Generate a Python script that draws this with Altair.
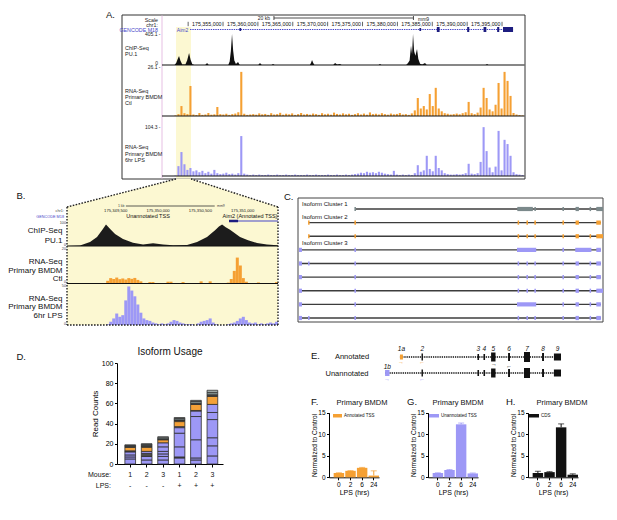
import altair as alt
import pandas as pd
import numpy as np

W, H = 601, 504
FONT = "Liberation Sans"
ORANGE = "#f5a033"
PURPLE = "#9d98f6"
BLUE = "#4646c8"
NAVY = "#1d1d80"
YELLOW = "#fcf8d2"
INK = "#111111"
GREY_ISO = "#7b898b"


def P(v):
    return v - 8


# ------------------------------------------------------------------ panel A data
A_DOMAIN_KB = [-3.75, 48.15]  # kb relative to chr1:175,350,000
A_TICK_KB = [5, 10, 15, 20, 25, 30, 35, 40, 45]
A_TICK_LABELS = ["175,355,000", "175,360,000", "175,365,000", "175,370,000", "175,375,000",
                 "175,380,000", "175,385,000", "175,390,000", "175,395,000"]
A_TICK_MARKS_KB = [0, 5, 10, 15, 20, 25, 30, 35, 40, 45]
A_SCALEBAR_KB = [12.3, 32.3]
A_HIGHLIGHT_KB = [-1.74, 0.41]
A_GENE_KB = [0.27, 46.58]
A_EXON_THIN_START = [7.35, 33.15]
A_EXON_THIN_END = [7.6, 33.4]
A_EXON_THICK_START = [35.65, 40.0, 42.35, 44.3, 45.14]
A_EXON_THICK_END = [36.05, 40.3, 42.75, 44.6, 46.58]

A_CHIP_KB = [-3.75, -1.95, -1.7, -1.5, -1.31, -1.1, -0.85, -0.4, -0.15, 0.13, 0.35, 0.6, 0.9,
             2.45, 2.71, 2.95,
             5.75, 5.95, 6.12, 6.29, 6.45, 6.62, 6.85, 7.15, 7.4,
             10.05, 10.3, 10.55,
             11.95, 12.17, 12.4,
             17.45, 17.62, 17.76, 17.92, 18.1,
             20.8, 21.06, 21.35, 21.77, 22.0,
             27.3, 27.5, 27.7,
             31.25, 31.52, 31.75, 31.95, 32.1, 32.24, 32.4, 32.58, 32.81, 33.0, 33.25, 33.55, 33.96, 34.2,
             42.65, 42.85, 43.05, 48.15]
A_CHIP_VAL = [0, 0, 30, 80, 118, 55, 8, 5, 60, 157, 70, 10, 0,
              0, 26, 0,
              0, 45, 180, 405, 190, 60, 12, 39, 0,
              0, 26, 0,
              0, 13, 0,
              0, 30, 65, 30, 0,
              0, 26, 6, 13, 0,
              0, 13, 0,
              0, 26, 60, 250, 140, 405, 180, 120, 209, 80, 15, 5, 26, 0,
              0, 13, 0, 0]

A_CTL = [0, 0, 0, 0, 0.3, 1.0, 5.3, 1.5, 1.0, 16.0,
         0.8, 0.5, 1.6, 0.6, 0.8, 1.6, 0.7, 0.9, 4.8, 1.0,
         0.8, 1.2, 0.6, 1.0, 1.3, 2.0, 23.5, 1.2, 0.6, 0.8,
         1.0, 0.7, 1.4, 0.9, 1.1, 0.6, 1.5, 0.8, 1.0, 1.7,
         0.7, 1.2, 0.9, 1.4, 0.6, 1.0, 1.6, 0.8, 1.1, 0.7,
         1.3, 1.0, 0.6, 1.5, 0.9, 1.2, 0.7, 1.8, 1.1, 0.8,
         1.4, 0.9, 1.2, 0.6, 1.0, 1.5, 0.8, 1.3, 0.7, 1.9,
         1.0, 1.2, 0.8, 1.5, 1.0, 0.7, 1.3, 0.9, 1.1, 1.6,
         0.8, 1.0, 0.6, 1.4, 3.0, 9.6, 4.0, 5.3, 3.5, 11.7,
         5.3, 15.0, 4.0, 2.5, 1.5, 1.2, 0.8, 1.0, 1.3, 0.9,
         1.5, 2.0, 7.5, 1.5, 1.0, 1.8, 4.5, 15.0, 9.6, 3.5,
         2.5, 6.0, 17.6, 4.0, 23.5, 18.7, 10.7, 1.6, 0.8, 0.5,
         0.3]
A_LPS = [0, 0, 0, 0, 1, 21, 51, 25, 13, 17,
         10, 12, 8, 11, 6, 9, 5, 13, 6, 4,
         5, 7, 4, 5, 3, 6, 85, 5, 3, 2,
         3, 2, 3, 2, 2, 3, 2, 2, 3, 2,
         2, 3, 2, 2, 3, 2, 2, 2, 3, 2,
         2, 3, 2, 2, 2, 3, 2, 2, 3, 2,
         2, 3, 2, 3, 4, 5, 7, 6, 9, 7,
         8, 6, 9, 7, 5, 4, 3, 11, 3, 2,
         3, 2, 3, 2, 6, 23, 9, 12, 43, 15,
         10, 43, 17, 12, 6, 4, 3, 3, 4, 3,
         4, 6, 26, 5, 4, 6, 30, 104, 53, 18,
         8, 20, 96, 12, 77, 68, 43, 8, 4, 3,
         2]

# ------------------------------------------------------------------ panel B data
B_DOMAIN_KB = [-1.076, 1.418]
B_TICK_KB = [-0.5, 0.0, 0.5, 1.0]
B_TICK_LABELS = ["175,349,500", "175,350,000", "175,350,500", "175,351,000"]
B_SCALEBAR_KB = [-0.38, 0.67]
B_GENE_KB = [0.839, 1.418]
B_GENE_THICK_KB = [0.839, 0.946]
B_CHIP_KB = [-1.076, -0.922, -0.804, -0.721, -0.66, -0.615, -0.56, -0.508, -0.414, -0.296, -0.177,
             -0.059, 0.059, 0.177, 0.343, 0.461, 0.579, 0.674, 0.72, 0.757, 0.80, 0.851, 0.969,
             1.064, 1.170, 1.288, 1.407, 1.418]
B_CHIP_VAL = [0, 2, 17, 39, 70, 93, 72, 52, 30, 14, 6, 12, 7, 3, 4, 17, 39, 68, 85, 94, 82, 71, 39,
              25, 13, 7, 3, 2]
B_CTL = [0] * 13 + [1.5, 3.0, 2.5, 3.3, 2.4, 2.8, 2.2, 3.0, 2.6, 3.1, 2.0, 1.2,
                    0, 0, 0.8, 0.8, 0, 0, 0, 0, 1.0, 1.0, 0, 0, 0, 0.8, 0, 0, 0, 0, 0, 1.2, 0, 0, 1.2,
                    0, 0, 0, 0, 0, 0.5, 2.5, 7.0, 14.4, 10.0, 3.0, 1.0, 0, 0, 0, 0.6, 0, 0, 0, 0, 0, 0.8]
B_LPS = [0] * 13 + [1, 4, 8, 14, 10, 12, 30, 47, 42, 35, 25, 15, 8, 6, 5, 3, 2, 1, 2, 1, 2, 4, 6, 5, 3,
                    2, 1, 1, 1, 0, 2, 4, 5, 6, 8, 3, 1, 0, 0, 0, 1, 2, 3, 5, 8, 10, 6, 3, 2, 3, 1, 2,
                    1, 2, 3, 2, 4]

# ------------------------------------------------------------------ panel C data
C_EXONS = {
    "1b": (0.3, 1.3), "1a": (3.3, 3.8), "2": (18.5, 19.0), "3": (72.0, 72.5), "4": (74.9, 75.4),
    "5": (77.5, 78.0), "6": (86.7, 87.2), "7": (91.0, 92.1), "8": (95.6, 96.1),
    "9s": (97.8, 99.3), "9l": (97.8, 100.0), "L5": (71.8, 78.1), "L7": (90.9, 96.2),
    "G5": (71.9, 77.0),
}
C_ROW_EXONS = [
    ["2", "G5", "5", "6", "7", "8", "9l"],
    ["1a", "2", "3", "4", "5", "6", "7", "9s"],
    ["1a", "2", "3", "4", "5", "6", "7", "8", "9l"],
    ["1b", "2", "L5", "6", "L7", "9s"],
    ["1b", "1a", "2", "3", "4", "5", "6", "7", "8", "9s"],
    ["1b", "2", "3", "4", "5", "6", "7", "8", "9s"],
    ["1b", "2", "3", "4", "5", "6", "7", "8", "9l"],
    ["1b", "2", "L5", "6", "7", "8", "9s"],
    ["1b", "1a", "2", "3", "4", "5", "6", "7", "8", "9s"],
]
C_ROW_COLOR = [GREY_ISO, ORANGE, ORANGE, PURPLE, PURPLE, PURPLE, PURPLE, PURPLE, PURPLE]

# ------------------------------------------------------------------ panel D data
D_BARS = ["1-", "2-", "3-", "1+", "2+", "3+"]
D_MOUSE = ["1", "2", "3", "1", "2", "3"]
D_LPS = ["-", "-", "-", "+", "+", "+"]
D_VALUES = [
    [5, 2, 2, 3, 1, 3.5, 1, 0.8, 0.7],
    [4, 3.5, 3, 2, 4, 1, 0.7, 1.3, 0.5],
    [4, 3.5, 2.5, 2.5, 4.5, 4, 3, 0.7, 1.3, 1],
    [6, 1, 10, 13.5, 5.5, 1, 5, 1, 0.5, 1.5, 1],
    [4, 2, 18, 23, 5.5, 0.5, 6, 1, 2, 1],
    [8, 10, 8, 18, 7, 8, 8, 1.5, 2.5, 2],
]
D_CLASSES = [
    ["P", "P", "P", "P", "K", "O", "K", "G", "L"],
    ["P", "P", "K", "P", "O", "O", "K", "G", "L"],
    ["P", "P", "P", "P", "P", "P", "O", "K", "G", "L"],
    ["P", "K", "P", "P", "P", "P", "O", "O", "K", "G", "L"],
    ["P", "P", "P", "P", "P", "P", "O", "K", "G", "L"],
    ["P", "P", "P", "P", "P", "P", "O", "K", "G", "L"],
]
D_CLASS_NAMES = ["P", "K", "O", "G", "L"]
D_CLASS_COLORS = [PURPLE, "#4d4d4d", "#f4a138", "#7c8a89", "#b7c3bf"]

# ------------------------------------------------------------------ panel E data
E_ANN_NAMES = ["1a", "2", "3", "4", "5", "6", "7", "8", "9"]
E_ANN_START = [9.0, 21.2, 52.8, 56.2, 60.5, 70.1, 79.1, 89.3, 96.0]
E_ANN_END = [10.7, 22.0, 53.7, 57.1, 63.0, 71.2, 82.5, 90.4, 100.0]
E_ANN_HALF = [2.5, 3.5, 3.0, 3.0, 4.5, 4.0, 5.0, 4.0, 3.5]
E_ANN_COLOR = [ORANGE] + [INK] * 8
E_UN_NAMES = ["1b", "2", "3", "4", "5", "6", "7", "8", "9"]
E_UN_START = [0.6, 21.2, 52.8, 56.2, 60.5, 70.1, 79.1, 89.3, 96.0]
E_UN_END = [3.1, 22.0, 53.7, 57.1, 63.0, 71.2, 82.5, 90.4, 100.0]
E_UN_HALF = [3.0, 3.5, 3.0, 3.0, 4.5, 4.0, 5.0, 4.0, 3.5]
E_UN_COLOR = [PURPLE] + [INK] * 8
E_ROW_Y = [12, 28]
E_LINE_START = [9.0, 0.6]
E_LINE_END = [99.5, 99.5]

# ------------------------------------------------------------------ panels F, G, H data
TIMES = ["0", "2", "6", "24"]
F_MEAN = [1.0, 1.5, 2.2, 0.4]
F_ERR = [0.05, 0.05, 0.1, 1.1]
G_MEAN = [1.0, 1.7, 12.3, 0.9]
G_ERR = [0.05, 0.1, 0.3, 0.1]
H_MEAN = [1.0, 1.2, 11.6, 0.6]
H_ERR = [0.4, 0.1, 0.8, 0.2]


# ------------------------------------------------------------------ helpers
def T(rows, align="left", style="normal", weight="normal"):
    df = pd.DataFrame(rows, columns=["x", "y", "t", "s", "c"])
    df["x"] = df["x"] - 8
    df["y"] = df["y"] - 8
    return alt.Chart(df).mark_text(align=align, baseline="middle", font=FONT,
                                   fontStyle=style, fontWeight=weight).encode(
        x=alt.X("x:Q", scale=None, axis=None),
        y=alt.Y("y:Q", scale=None, axis=None),
        text="t:N",
        size=alt.Size("s:Q", scale=None, legend=None),
        color=alt.Color("c:N", scale=None, legend=None),
    )


def L(rows, color=INK, width=1.0, dash=None):
    df = pd.DataFrame(rows, columns=["x", "y", "x2", "y2"]) - 8
    kw = dict(color=color, strokeWidth=width)
    if dash:
        kw["strokeDash"] = dash
    return alt.Chart(df).mark_rule(**kw).encode(
        x=alt.X("x:Q", scale=None, axis=None), y=alt.Y("y:Q", scale=None, axis=None),
        x2="x2:Q", y2="y2:Q")


def R(rows, fill="#ffffff", fill_opacity=1.0, stroke="#333333", width=0.0):
    df = pd.DataFrame(rows, columns=["x", "y", "x2", "y2"]) - 8
    return alt.Chart(df).mark_rect(fill=fill, fillOpacity=fill_opacity, stroke=stroke,
                                   strokeWidth=width).encode(
        x=alt.X("x:Q", scale=None, axis=None), y=alt.Y("y:Q", scale=None, axis=None),
        x2="x2:Q", y2="y2:Q")


def XA():
    return alt.Scale(domain=A_DOMAIN_KB, range=[P(162), P(524)])


def XB():
    return alt.Scale(domain=B_DOMAIN_KB, range=[P(67), P(278)])


def XC():
    return alt.Scale(domain=[0, 100], range=[P(298), P(603)])


def YC():
    return alt.Scale(domain=[0, 8], range=[P(209), P(318)])


def XE():
    return alt.Scale(domain=[0, 100], range=[P(384), P(561)])


def YE():
    return alt.Scale(domain=[0, 40], range=[P(345), P(385)])


def XD():
    return alt.Scale(type="band", domain=D_BARS, range=[P(117), P(223)],
                     paddingInner=0.35, paddingOuter=0.4, align=0.6)


layers = []

# ================================================================== panel A
layers.append(R([(122, 15, 525, 179)], fill="#ffffff", stroke="#333333", width=1.0))
hl = pd.DataFrame({"a": [A_HIGHLIGHT_KB[0]], "b": [A_HIGHLIGHT_KB[1]]})
layers.append(alt.Chart(hl).mark_rect(color=YELLOW).encode(
    x=alt.X("a:Q", scale=XA(), axis=None), x2="b:Q",
    y=alt.value(P(27)), y2=alt.value(P(178.5))))
layers.append(L([(162, 15.5, 162, 178.5)], color="#e6bfe3", width=1.0))

chip = pd.DataFrame({"k": A_CHIP_KB, "v": A_CHIP_VAL})
layers.append(alt.Chart(chip).mark_area(color=INK, interpolate="linear").encode(
    x=alt.X("k:Q", scale=XA(), axis=None),
    y=alt.Y("v:Q", scale=alt.Scale(domain=[0, 405.1], range=[P(65), P(34)]), axis=None)))

edges_a = np.linspace(A_DOMAIN_KB[0], A_DOMAIN_KB[1], len(A_CTL) + 1)
centers_a = (edges_a[:-1] + edges_a[1:]) / 2
for vals, col, top, base, ymax in [(A_CTL, ORANGE, 67, 116, 26.1), (A_LPS, PURPLE, 127, 176, 104.3)]:
    df = pd.DataFrame({"k": centers_a, "v": vals})
    layers.append(alt.Chart(df).mark_rule(color=col, strokeWidth=2.1).encode(
        x=alt.X("k:Q", scale=XA(), axis=None),
        y=alt.Y("v:Q", scale=alt.Scale(domain=[0, ymax], range=[P(base), P(top)]), axis=None),
        y2=alt.datum(0)))

layers.append(L([(162, 65, 524.5, 65), (162, 116, 524.5, 116), (162, 176, 524.5, 176)],
                color=INK, width=1.2))

# coordinates, scale bar, gene
ticks_a = pd.DataFrame({"k": A_TICK_MARKS_KB})
layers.append(alt.Chart(ticks_a).mark_rule(color="#222", strokeWidth=0.7).encode(
    x=alt.X("k:Q", scale=XA(), axis=None), y=alt.value(P(21.8)), y2=alt.value(P(26.2))))
labs_a = pd.DataFrame({"k": A_TICK_KB, "t": A_TICK_LABELS})
layers.append(alt.Chart(labs_a).mark_text(align="right", baseline="middle", dx=-1.5, fontSize=5.3,
                                          font=FONT, color="#111").encode(
    x=alt.X("k:Q", scale=XA(), axis=None), y=alt.value(P(24)), text="t:N"))
sb = pd.DataFrame({"a": [A_SCALEBAR_KB[0]], "b": [A_SCALEBAR_KB[1]]})
layers.append(alt.Chart(sb).mark_rule(color="#222", strokeWidth=0.8).encode(
    x=alt.X("a:Q", scale=XA(), axis=None), x2="b:Q", y=alt.value(P(18))))
sbe = pd.DataFrame({"k": A_SCALEBAR_KB})
layers.append(alt.Chart(sbe).mark_rule(color="#222", strokeWidth=0.8).encode(
    x=alt.X("k:Q", scale=XA(), axis=None), y=alt.value(P(16)), y2=alt.value(P(20))))
gene = pd.DataFrame({"a": [A_GENE_KB[0]], "b": [A_GENE_KB[1]]})
layers.append(alt.Chart(gene).mark_rule(color=BLUE, strokeWidth=1.2, strokeDash=[1.4, 0.9]).encode(
    x=alt.X("a:Q", scale=XA(), axis=None), x2="b:Q", y=alt.value(P(29.5))))
ex_thin = pd.DataFrame({"a": A_EXON_THIN_START, "b": A_EXON_THIN_END})
layers.append(alt.Chart(ex_thin).mark_rect(color=NAVY).encode(
    x=alt.X("a:Q", scale=XA(), axis=None), x2="b:Q", y=alt.value(P(28)), y2=alt.value(P(31))))
ex_thick = pd.DataFrame({"a": A_EXON_THICK_START, "b": A_EXON_THICK_END})
layers.append(alt.Chart(ex_thick).mark_rect(color=NAVY).encode(
    x=alt.X("a:Q", scale=XA(), axis=None), x2="b:Q", y=alt.value(P(27)), y2=alt.value(P(32))))

layers.append(T([
    (158, 19.5, "Scale", 5.3, "#222"),
    (158, 24.5, "chr1:", 5.3, "#222"),
    (158, 29.5, "GENCODE M18", 5.3, BLUE),
    (160.5, 34, "405.1 -", 5.0, "#222"),
    (158, 62.5, "0", 5.0, "#222"),
    (160.5, 67, "26.1 -", 5.0, "#222"),
    (160.5, 127, "104.3 -", 5.0, "#222"),
    (270, 17.5, "20 kb", 5.0, "#222"),
], align="right"))
layers.append(T([
    (125, 47.5, "ChIP-Seq", 5.5, "#222"),
    (125, 53.5, "PU.1", 5.5, "#222"),
    (125, 91, "RNA-Seq", 5.5, "#222"),
    (125, 97, "Primary BMDM", 5.5, "#222"),
    (125, 103, "Ctl", 5.5, "#222"),
    (125, 147, "RNA-Seq", 5.5, "#222"),
    (125, 153.5, "Primary BMDM", 5.5, "#222"),
    (125, 160, "6hr LPS", 5.5, "#222"),
    (418, 18.5, "mm9", 5.0, "#222"),
], align="left"))
layers.append(T([(182.5, 29.5, "Aim2", 5.0, BLUE)], align="center"))

# ================================================================== panel B
trap = pd.DataFrame({"y": [179 - 8, 207 - 8], "x": [176 - 8, 67 - 8], "x2": [191 - 8, 278 - 8]})
layers.append(alt.Chart(trap).mark_area(orient="horizontal", color=YELLOW).encode(
    y=alt.Y("y:Q", scale=None, axis=None), x=alt.X("x:Q", scale=None, axis=None), x2="x2:Q"))
layers.append(R([(67, 206.5, 278, 325)], fill=YELLOW, stroke=YELLOW, width=0.0))

bchip = pd.DataFrame({"k": B_CHIP_KB, "v": B_CHIP_VAL})
layers.append(alt.Chart(bchip).mark_area(color="#1c1c1c", interpolate="linear").encode(
    x=alt.X("k:Q", scale=XB(), axis=None),
    y=alt.Y("v:Q", scale=alt.Scale(domain=[0, 100], range=[P(246), P(223)]), axis=None)))
edges_b = np.linspace(B_DOMAIN_KB[0], B_DOMAIN_KB[1], len(B_CTL) + 1)
for vals, col, top, base, ymax in [(B_CTL, ORANGE, 247.5, 283.5, 20), (B_LPS, PURPLE, 284, 325, 50)]:
    df = pd.DataFrame({"a": edges_b[:-1], "b": edges_b[1:], "v": vals})
    layers.append(alt.Chart(df).mark_rect(color=col).encode(
        x=alt.X("a:Q", scale=XB(), axis=None), x2="b:Q",
        y=alt.Y("v:Q", scale=alt.Scale(domain=[0, ymax], range=[P(base), P(top)]), axis=None),
        y2=alt.datum(0)))
layers.append(L([(67, 246, 278, 246), (67, 283.5, 278, 283.5)], color=INK, width=1.1))
layers.append(L([(176, 179, 67, 207), (67, 207, 67, 325), (67, 325, 278, 325),
                 (278, 325, 278, 207), (278, 207, 191, 179)], color="#222", width=1.4, dash=[1.6, 1.4]))

bsb = pd.DataFrame({"a": [B_SCALEBAR_KB[0]], "b": [B_SCALEBAR_KB[1]]})
layers.append(alt.Chart(bsb).mark_rule(color="#333", strokeWidth=0.8).encode(
    x=alt.X("a:Q", scale=XB(), axis=None), x2="b:Q", y=alt.value(P(206))))
blabs = pd.DataFrame({"k": B_TICK_KB, "t": B_TICK_LABELS})
layers.append(alt.Chart(blabs).mark_text(align="center", baseline="middle", fontSize=4.2,
                                         font=FONT, color="#222").encode(
    x=alt.X("k:Q", scale=XB(), axis=None), y=alt.value(P(210.5)), text="t:N"))
bgene = pd.DataFrame({"a": [B_GENE_KB[0]], "b": [B_GENE_KB[1]]})
layers.append(alt.Chart(bgene).mark_rule(color=BLUE, strokeWidth=1.0).encode(
    x=alt.X("a:Q", scale=XB(), axis=None), x2="b:Q", y=alt.value(P(221))))
bgt = pd.DataFrame({"a": [B_GENE_THICK_KB[0]], "b": [B_GENE_THICK_KB[1]]})
layers.append(alt.Chart(bgt).mark_rule(color=NAVY, strokeWidth=2.5).encode(
    x=alt.X("a:Q", scale=XB(), axis=None), x2="b:Q", y=alt.value(P(221))))

layers.append(T([
    (62.5, 231, "ChIP-Seq", 8, INK),
    (62.5, 240.5, "PU.1", 8, INK),
    (62.5, 262, "RNA-Seq", 8, INK),
    (62.5, 270.5, "Primary BMDM", 8, INK),
    (62.5, 279, "Ctl", 8, INK),
    (62.5, 298.5, "RNA-Seq", 8, INK),
    (62.5, 307, "Primary BMDM", 8, INK),
    (62.5, 316, "6hr LPS", 8, INK),
    (64, 211, "chr1:", 3.8, "#444"),
    (64, 217, "GENCODE M18", 3.8, BLUE),
    (66, 223, "100", 3.8, "#444"),
    (66, 244.5, "0", 3.8, "#444"),
    (66, 248.5, "20", 3.8, "#444"),
    (66, 281.5, "0", 3.8, "#444"),
    (66, 285.5, "50", 3.8, "#444"),
    (66, 323.5, "0", 3.8, "#444"),
    (124.5, 206, "1 kb", 3.5, "#444"),
], align="right"))
layers.append(T([(217, 206, "mm9", 3.5, "#444")], align="left"))
layers.append(T([
    (148, 216, "Unannotated TSS", 5.5, INK),
    (250, 216, "Aim2 (Annotated TSS)", 5.5, INK),
], align="center"))

# ================================================================== panel C
layers.append(R([(298, 198, 603, 322)], fill="#ffffff", stroke="#444444", width=1.0))
intr, exo = [], []
for r, names in enumerate(C_ROW_EXONS):
    s = C_EXONS[names[0]]
    e = C_EXONS[names[-1]]
    intr.append({"row": r, "a": (s[0] + s[1]) / 2, "b": e[1]})
    for n in names:
        exo.append({"row": r, "a": C_EXONS[n][0], "b": C_EXONS[n][1], "c": C_ROW_COLOR[r]})
layers.append(alt.Chart(pd.DataFrame(intr)).mark_rule(color="#3c3c3c", strokeWidth=1.3).encode(
    x=alt.X("a:Q", scale=XC(), axis=None), x2="b:Q", y=alt.Y("row:Q", scale=YC(), axis=None)))
layers.append(alt.Chart(pd.DataFrame(exo)).mark_rule(strokeWidth=4.2).encode(
    x=alt.X("a:Q", scale=XC(), axis=None), x2="b:Q", y=alt.Y("row:Q", scale=YC(), axis=None),
    color=alt.Color("c:N", scale=None, legend=None)))
layers.append(T([
    (302, 203.5, "Isoform Cluster 1", 6, INK),
    (302, 216.5, "Isoform Cluster 2", 6, INK),
    (302, 243, "Isoform Cluster 3", 6, INK),
], align="left"))

# ================================================================== panel D
drows = []
for b, vals, cls in zip(D_BARS, D_VALUES, D_CLASSES):
    for i, (v, c) in enumerate(zip(vals, cls)):
        drows.append({"bar": b, "seg": i, "v": v, "cls": c})
ddf = pd.DataFrame(drows)
layers.append(alt.Chart(ddf).mark_bar(stroke="#2e2e2e", strokeWidth=0.8).encode(
    x=alt.X("bar:N", sort=D_BARS, scale=XD(),
            axis=alt.Axis(orient="bottom", offset=P(464) - H, labels=False, title=None,
                          tickSize=3, grid=False)),
    y=alt.Y("v:Q", stack="zero", scale=alt.Scale(domain=[0, 100], range=[P(464), P(363)]),
            axis=alt.Axis(orient="left", offset=-P(117), values=[0, 20, 40, 60, 80, 100],
                          title="Read Counts", titleFontSize=8, labelFontSize=7, tickSize=2.5,
                          labelPadding=1.5, titlePadding=1.5, grid=False)),
    color=alt.Color("cls:N", scale=alt.Scale(domain=D_CLASS_NAMES, range=D_CLASS_COLORS), legend=None),
    order=alt.Order("seg:Q", sort="ascending"),
    detail="seg:N",
))
dlab = pd.DataFrame({"bar": D_BARS, "m": D_MOUSE, "l": D_LPS})
layers.append(alt.Chart(dlab).mark_text(font=FONT, fontSize=7, baseline="middle", color=INK).encode(
    x=alt.X("bar:N", sort=D_BARS, scale=XD(), axis=None), y=alt.value(P(475)), text="m:N"))
layers.append(alt.Chart(dlab).mark_text(font=FONT, fontSize=7, baseline="middle", color=INK).encode(
    x=alt.X("bar:N", sort=D_BARS, scale=XD(), axis=None), y=alt.value(P(485.5)), text="l:N"))
layers.append(T([(170, 352, "Isoform Usage", 10, INK)], align="center"))
layers.append(T([(111, 475, "Mouse:", 7, INK), (111, 485.5, "LPS:", 7, INK)], align="right"))

# ================================================================== panel E
eline = pd.DataFrame({"a": E_LINE_START, "b": E_LINE_END, "y": E_ROW_Y})
layers.append(alt.Chart(eline).mark_rule(color=INK, strokeWidth=1.6, strokeDash=[1.3, 0.9]).encode(
    x=alt.X("a:Q", scale=XE(), axis=None), x2="b:Q", y=alt.Y("y:Q", scale=YE(), axis=None)))
erows = []
for yc, st, en, hh, cc in [(E_ROW_Y[0], E_ANN_START, E_ANN_END, E_ANN_HALF, E_ANN_COLOR),
                           (E_ROW_Y[1], E_UN_START, E_UN_END, E_UN_HALF, E_UN_COLOR)]:
    for a, b, h, c in zip(st, en, hh, cc):
        erows.append({"a": a, "b": b, "y1": yc - h, "y2": yc + h, "c": c})
layers.append(alt.Chart(pd.DataFrame(erows)).mark_rect().encode(
    x=alt.X("a:Q", scale=XE(), axis=None), x2="b:Q",
    y=alt.Y("y1:Q", scale=YE(), axis=None), y2="y2:Q",
    color=alt.Color("c:N", scale=None, legend=None)))
elab = pd.DataFrame({"k": [(a + b) / 2 for a, b in zip(E_ANN_START, E_ANN_END)], "t": E_ANN_NAMES})
layers.append(alt.Chart(elab).mark_text(font=FONT, fontSize=6.5, fontStyle="italic", baseline="middle",
                                        color=INK).encode(
    x=alt.X("k:Q", scale=XE(), axis=None), y=alt.value(P(349)), text="t:N"))
elab2 = pd.DataFrame({"k": [(E_UN_START[0] + E_UN_END[0]) / 2], "t": [E_UN_NAMES[0]]})
layers.append(alt.Chart(elab2).mark_text(font=FONT, fontSize=6.5, fontStyle="italic", baseline="middle",
                                         color=INK).encode(
    x=alt.X("k:Q", scale=XE(), axis=None), y=alt.value(P(367)), text="t:N"))
layers.append(T([
    (352, 357, "Annotated", 7.5, INK),
    (347, 374, "Unannotated", 7.5, INK),
    (401, 362, "→", 6, ORANGE),
    (422, 362, "←", 6, ORANGE),
    (494, 363.5, "→", 6, INK),
    (509, 365.5, "←", 6, INK),
    (387, 378.5, "→", 6, PURPLE),
    (422, 378.5, "←", 6, PURPLE),
], align="center"))


# ================================================================== panels F, G, H
def qpcr(ax, mean, err, color):
    df = pd.DataFrame({"t": TIMES, "m": mean, "hi": [m + e for m, e in zip(mean, err)]})

    def xs(axis):
        return alt.X("t:N", sort=TIMES,
                     scale=alt.Scale(type="band", domain=TIMES, range=[P(ax), P(ax + 50)],
                                     paddingInner=0.1, paddingOuter=0.2, align=1),
                     axis=axis)

    def ys():
        return alt.Scale(domain=[0, 15], range=[P(477.3), P(412.7)])

    out = []
    out.append(alt.Chart(df).mark_bar(color=color).encode(
        x=xs(alt.Axis(orient="bottom", offset=P(477.3) - H, title="LPS (hrs)", titleFontSize=7,
                      labelFontSize=6.5, tickSize=2.5, labelPadding=1.5, titlePadding=1.0,
                      labelAngle=0, grid=False)),
        y=alt.Y("m:Q", scale=ys(),
                axis=alt.Axis(orient="left", offset=-P(ax), values=[0, 5, 10, 15],
                              title="Normalized to Control", titleFontSize=6.5, labelFontSize=6.5,
                              tickSize=2.5, labelPadding=1.5, titlePadding=0.5, grid=False))))
    out.append(alt.Chart(df).mark_rule(color=color, strokeWidth=1).encode(
        x=xs(None), y=alt.Y("m:Q", scale=ys(), axis=None), y2="hi:Q"))
    out.append(alt.Chart(df).mark_tick(color=color, thickness=1, size=6).encode(
        x=xs(None), y=alt.Y("hi:Q", scale=ys(), axis=None)))
    return out


layers += qpcr(329, F_MEAN, F_ERR, ORANGE)
layers += qpcr(428, G_MEAN, G_ERR, PURPLE)
layers += qpcr(528, H_MEAN, H_ERR, INK)
layers.append(R([(333, 414, 342, 417.5)], fill=ORANGE, stroke=ORANGE, width=0.0))
layers.append(R([(429, 414, 439, 417.5)], fill=PURPLE, stroke=PURPLE, width=0.0))
layers.append(R([(529, 414, 539, 417.5)], fill=INK, stroke=INK, width=0.0))
layers.append(T([
    (344, 415.7, "Annotated TSS", 4.5, INK),
    (441, 415.7, "Unannotated TSS", 4.5, INK),
    (541, 415.7, "CDS", 4.5, INK),
], align="left"))
layers.append(T([
    (362, 403, "Primary BMDM", 7.5, INK),
    (458, 403, "Primary BMDM", 7.5, INK),
    (562, 403, "Primary BMDM", 7.5, INK),
], align="center"))

# ================================================================== panel letters
layers.append(T([
    (106, 15, "A.", 9.5, INK),
    (16.5, 196, "B.", 9.5, INK),
    (284, 197, "C.", 9.5, INK),
    (16.5, 357, "D.", 9.5, INK),
    (311, 356, "E.", 9.5, INK),
    (311, 402, "F.", 9.5, INK),
    (407, 402, "G.", 9.5, INK),
    (506, 402, "H.", 9.5, INK),
], align="left"))

chart = alt.layer(*layers).resolve_scale(
    x="independent", y="independent", color="independent"
).properties(
    width=W, height=H, padding=0, background="white",
    autosize=alt.AutoSizeParams(type="none"),
).configure_view(strokeWidth=0).configure_axis(
    labelFont=FONT, titleFont=FONT, titleFontWeight="normal", domainColor="#000",
    tickColor="#000", labelColor="#000", titleColor="#000", domainWidth=1, tickWidth=1,
)

chart.save("out.html", embed_options={"renderer": "svg", "actions": False})
